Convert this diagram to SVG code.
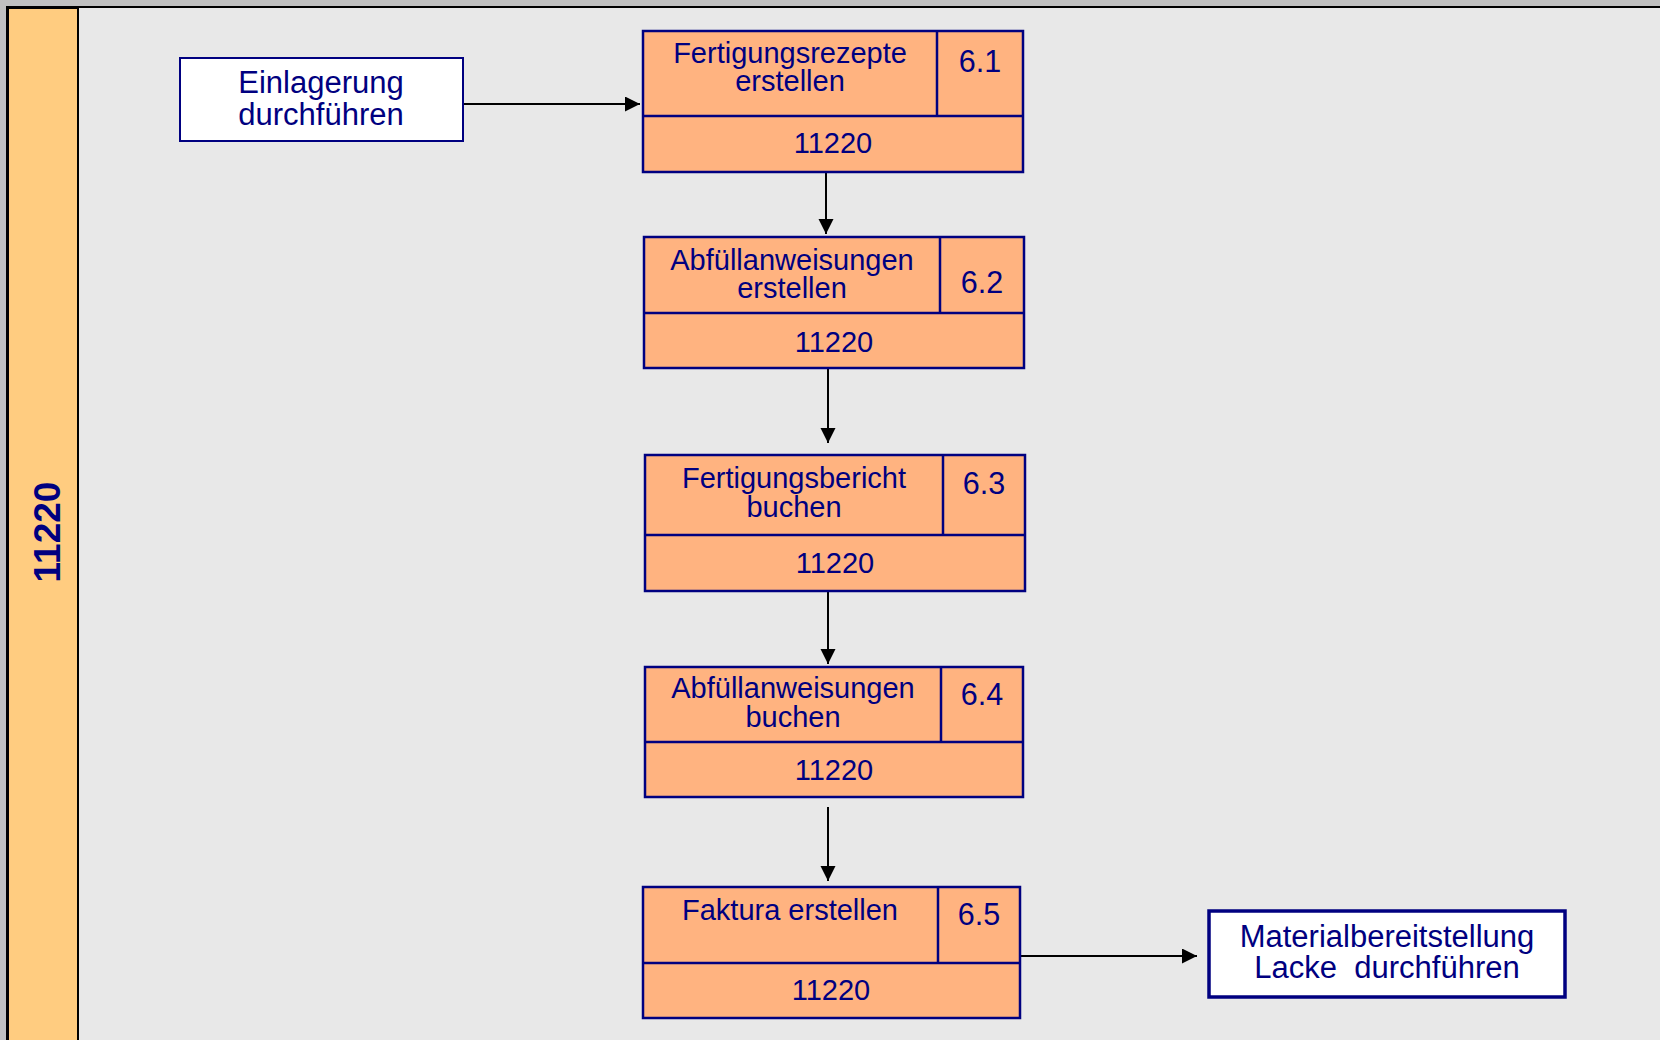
<svg xmlns="http://www.w3.org/2000/svg" width="1660" height="1040" viewBox="0 0 1660 1040">
  <style>
    .txt { font-family: "Liberation Sans", Arial, sans-serif; fill: #000080; text-anchor: middle; }
    .title { font-size: 29px; }
    .num { font-size: 30.5px; }
    .lane-no { font-size: 29px; }
    .ext { font-size: 31px; }
    .proc { fill: #FFB380; stroke: #000080; stroke-width: 2.5; }
    .div { stroke: #000080; stroke-width: 2.5; fill: none; }
    .extbox { fill: #FFFFFF; stroke: #000080; }
    .conn { stroke: #000000; stroke-width: 2; fill: none; marker-end: url(#arrow); }
  </style>
  <defs>
    <marker id="arrow" markerUnits="userSpaceOnUse" markerWidth="16" markerHeight="16" refX="15" refY="7.5" orient="auto">
      <path d="M0,0 L15,7.5 L0,15 Z" fill="#000000"/>
    </marker>
  </defs>

  <!-- page frame -->
  <rect x="0" y="0" width="1660" height="1040" fill="#C0C0C0"/>
  <rect x="7" y="7" width="1670" height="1050" fill="#E8E8E8" stroke="#000000" stroke-width="2"/>

  <!-- swimlane header -->
  <g id="lane">
    <rect x="8" y="8" width="70" height="1040" fill="#FFCC80" stroke="#000000" stroke-width="2"/>
    <text class="txt" font-weight="bold" font-size="37" transform="translate(60,532) rotate(-90)">11220</text>
  </g>

  <!-- connectors -->
  <g id="connectors">
    <line class="conn" x1="463" y1="104" x2="640" y2="104"/>
    <line class="conn" x1="826" y1="159" x2="826" y2="234"/>
    <line class="conn" x1="828" y1="368" x2="828" y2="443"/>
    <line class="conn" x1="828" y1="589" x2="828" y2="664"/>
    <line class="conn" x1="828" y1="807" x2="828" y2="881"/>
    <line class="conn" x1="1020" y1="956" x2="1197" y2="956"/>
  </g>

  <!-- event: Einlagerung durchführen -->
  <g id="ev-einlagerung">
    <rect class="extbox" x="180" y="58" width="283" height="83" stroke-width="2"/>
    <text class="txt ext" x="321" y="93">Einlagerung</text>
    <text class="txt ext" x="321" y="125">durchführen</text>
  </g>

  <!-- process 6.1 -->
  <g id="p61">
    <rect class="proc" x="643" y="31" width="380" height="141"/>
    <line class="div" x1="643" y1="116" x2="1023" y2="116"/>
    <line class="div" x1="937" y1="31" x2="937" y2="116"/>
    <text class="txt title" x="790" y="63">Fertigungsrezepte</text>
    <text class="txt title" x="790" y="91">erstellen</text>
    <text class="txt num" x="980" y="72">6.1</text>
    <text class="txt lane-no" x="833" y="153">11220</text>
  </g>

  <!-- process 6.2 -->
  <g id="p62">
    <rect class="proc" x="644" y="237" width="380" height="131"/>
    <line class="div" x1="644" y1="313" x2="1024" y2="313"/>
    <line class="div" x1="940" y1="237" x2="940" y2="313"/>
    <text class="txt title" x="792" y="270">Abfüllanweisungen</text>
    <text class="txt title" x="792" y="298">erstellen</text>
    <text class="txt num" x="982" y="293">6.2</text>
    <text class="txt lane-no" x="834" y="352">11220</text>
  </g>

  <!-- process 6.3 -->
  <g id="p63">
    <rect class="proc" x="645" y="455" width="380" height="136"/>
    <line class="div" x1="645" y1="535" x2="1025" y2="535"/>
    <line class="div" x1="943" y1="455" x2="943" y2="535"/>
    <text class="txt title" x="794" y="488">Fertigungsbericht</text>
    <text class="txt title" x="794" y="517">buchen</text>
    <text class="txt num" x="984" y="494">6.3</text>
    <text class="txt lane-no" x="835" y="573">11220</text>
  </g>

  <!-- process 6.4 -->
  <g id="p64">
    <rect class="proc" x="645" y="667" width="378" height="130"/>
    <line class="div" x1="645" y1="742" x2="1023" y2="742"/>
    <line class="div" x1="941" y1="667" x2="941" y2="742"/>
    <text class="txt title" x="793" y="698">Abfüllanweisungen</text>
    <text class="txt title" x="793" y="727">buchen</text>
    <text class="txt num" x="982" y="705">6.4</text>
    <text class="txt lane-no" x="834" y="780">11220</text>
  </g>

  <!-- process 6.5 -->
  <g id="p65">
    <rect class="proc" x="643" y="887" width="377" height="131"/>
    <line class="div" x1="643" y1="963" x2="1020" y2="963"/>
    <line class="div" x1="938" y1="887" x2="938" y2="963"/>
    <text class="txt title" x="790" y="920">Faktura erstellen</text>
    <text class="txt num" x="979" y="925">6.5</text>
    <text class="txt lane-no" x="831" y="1000">11220</text>
  </g>

  <!-- event: Materialbereitstellung Lacke durchführen -->
  <g id="ev-material">
    <rect class="extbox" x="1209" y="911" width="356" height="86" stroke-width="3.5"/>
    <text class="txt ext" x="1387" y="947">Materialbereitstellung</text>
    <text class="txt ext" x="1387" y="978" xml:space="preserve">Lacke  durchführen</text>
  </g>
</svg>
